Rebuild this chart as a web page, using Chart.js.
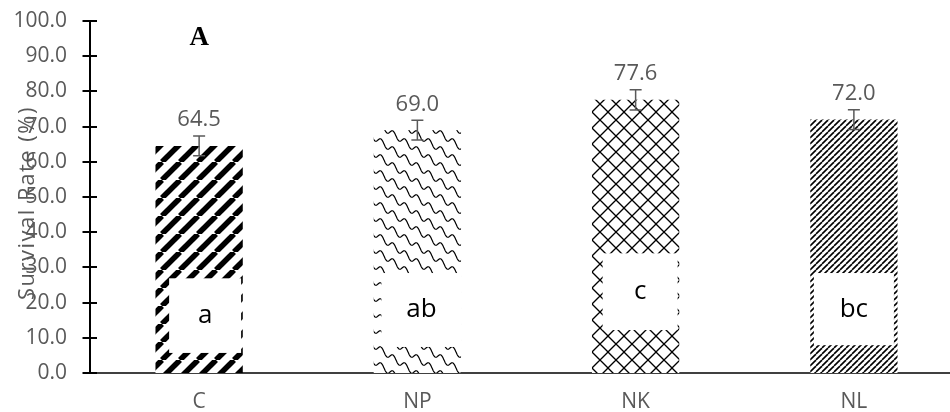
<!DOCTYPE html>
<html>
<head>
<meta charset="utf-8">
<script src="https://cdn.jsdelivr.net/npm/chart.js@4.4.1/dist/chart.umd.min.js"></script>
<style>
  html, body { margin: 0; padding: 0; background: #fff; overflow: hidden; width: 950px; height: 412px; }
  canvas { display: block; }
</style>
</head>
<body>
<canvas id="c" width="965" height="412"></canvas>
<script>
// ---- data ----
const categories = ['C', 'NP', 'NK', 'NL'];
const survivalRate = [64.5, 69.0, 77.6, 72.0];
const stdError = [2.8, 2.8, 2.9, 2.8];
const groupLetters = ['a', 'ab', 'c', 'bc'];
const panelLabel = 'A';
const yAxisTitle = 'Survival Rate (%)';
const yMin = 0, yMax = 100, yStep = 10;

// ---- patterns ----
const canvas = document.getElementById('c');
const ctx = canvas.getContext('2d');
function makePattern(w, h, draw) {
  const c = document.createElement('canvas');
  c.width = w; c.height = h;
  const g = c.getContext('2d');
  g.fillStyle = '#fff'; g.fillRect(0, 0, w, h);
  g.strokeStyle = '#000';
  draw(g, w, h);
  return ctx.createPattern(c, 'repeat');
}
function diag(g, P, lw) {
  g.lineWidth = lw;
  for (let k = -1; k <= 1; k++) {
    g.beginPath(); g.moveTo(k * P, P); g.lineTo(k * P + P, 0); g.stroke();
  }
}
const patC = makePattern(18, 18, (g) => diag(g, 18, 5.5));
const patNL = makePattern(6, 6, (g) => diag(g, 6, 1.6));
const patNK = makePattern(16, 16, (g, w, h) => {
  g.lineWidth = 1.3;
  g.beginPath(); g.moveTo(0, 0); g.lineTo(w, h); g.stroke();
  g.beginPath(); g.moveTo(w, 0); g.lineTo(0, h); g.stroke();
});
const patNP = makePattern(24, 16, (g, w, h) => {
  g.lineWidth = 1.2;
  for (const off of [-h, 0, h]) {
    g.beginPath();
    for (let x = -1; x <= w + 1; x += 0.5) {
      const y = off + x * (h / w) + 3 * Math.sin(2 * Math.PI * x / 12);
      if (x === -1) g.moveTo(x, y); else g.lineTo(x, y);
    }
    g.stroke();
  }
});
const patterns = [patC, patNP, patNK, patNL];

// ---- annotations layout (pixel offsets from bar centre, values in data units) ----
const letterBoxes = [
  { dx0: -30, dx1: 42, lo: 5.7, hi: 26.9 },
  { dx0: -36, dx1: 44, lo: 7.4, hi: 28.4 },
  { dx0: -33, dx1: 42, lo: 12.2, hi: 34.0 },
  { dx0: -40, dx1: 40, lo: 7.9, hi: 28.4 }
];

const annot = {
  id: 'annot',
  afterDatasetsDraw(chart) {
    const c = chart.ctx;
    const ys = chart.scales.y;
    const meta = chart.getDatasetMeta(0);
    c.save();
    meta.data.forEach((bar, i) => {
      const x = bar.x;
      const b = letterBoxes[i];
      const yTop = ys.getPixelForValue(b.hi), yBot = ys.getPixelForValue(b.lo);
      c.fillStyle = '#fff';
      c.fillRect(x + b.dx0, yTop, b.dx1 - b.dx0, yBot - yTop);
      c.fillStyle = '#000';
      c.font = '26px "Open Sans"';
      c.textAlign = 'center'; c.textBaseline = 'middle';
      c.fillText(groupLetters[i], x + (b.dx0 + b.dx1) / 2, (yTop + yBot) / 2);
      const v = survivalRate[i], e = stdError[i];
      const yHi = ys.getPixelForValue(v + e), yLo = ys.getPixelForValue(v - e);
      c.strokeStyle = '#595959'; c.lineWidth = 1.5;
      c.beginPath();
      c.moveTo(x, yHi); c.lineTo(x, yLo);
      c.moveTo(x - 6, yHi); c.lineTo(x + 6, yHi);
      c.moveTo(x - 6, yLo); c.lineTo(x + 6, yLo);
      c.stroke();
      c.fillStyle = '#595959';
      c.font = '22px "Open Sans"';
      c.fillText(v.toFixed(1), x, yHi - 16);
    });
    const ax = chart.chartArea.left;
    c.strokeStyle = '#000'; c.lineWidth = 2;
    ys.ticks.forEach(t => {
      const y = Math.round(ys.getPixelForValue(t.value));
      c.beginPath(); c.moveTo(ax - 7.5, y); c.lineTo(ax + 7, y); c.stroke();
    });
    c.fillStyle = '#000';
    c.font = 'bold 27px "Liberation Serif"';
    c.textAlign = 'center'; c.textBaseline = 'middle';
    c.fillText(panelLabel, meta.data[0].x, ys.getPixelForValue(95.1));
    c.restore();
  },
  afterDraw(chart) {
    const c = chart.ctx;
    c.save();
    c.translate(28, 203);
    c.rotate(-Math.PI / 2);
    c.fillStyle = '#595959';
    c.font = '22px "Open Sans"';
    c.letterSpacing = '1.5px';
    c.textAlign = 'center'; c.textBaseline = 'middle';
    c.fillText(yAxisTitle, 0, 0);
    c.restore();
  }
};

new Chart(ctx, {
  type: 'bar',
  data: {
    labels: categories,
    datasets: [{
      data: survivalRate,
      backgroundColor: patterns,
      borderWidth: 0,
      categoryPercentage: 1.0,
      barPercentage: 0.4
    }]
  },
  options: {
    responsive: false,
    animation: false,
    devicePixelRatio: 1,
    layout: { padding: { top: 21, right: 2, left: 0, bottom: 0 } },
    plugins: { legend: { display: false }, tooltip: { enabled: false } },
    scales: {
      x: {
        grid: { display: false, drawTicks: false },
        border: { display: true, color: '#404040', width: 2 },
        ticks: { color: '#595959', font: { family: 'Open Sans', size: 21 }, padding: 16 },
        afterFit(s) { s.height = 39; s.paddingLeft = 0; s.paddingRight = 0; }
      },
      y: {
        min: yMin, max: yMax,
        grid: { display: false },
        border: { display: true, color: '#000', width: 2 },
        ticks: {
          stepSize: yStep,
          color: '#595959',
          font: { family: 'Open Sans', size: 21 },
          padding: 15,
          callback: v => Number(v).toFixed(1)
        },
        afterFit(s) { s.width = 90; s.paddingTop = 0; s.paddingBottom = 0; }
      }
    }
  },
  plugins: [annot]
});
</script>
</body>
</html>
